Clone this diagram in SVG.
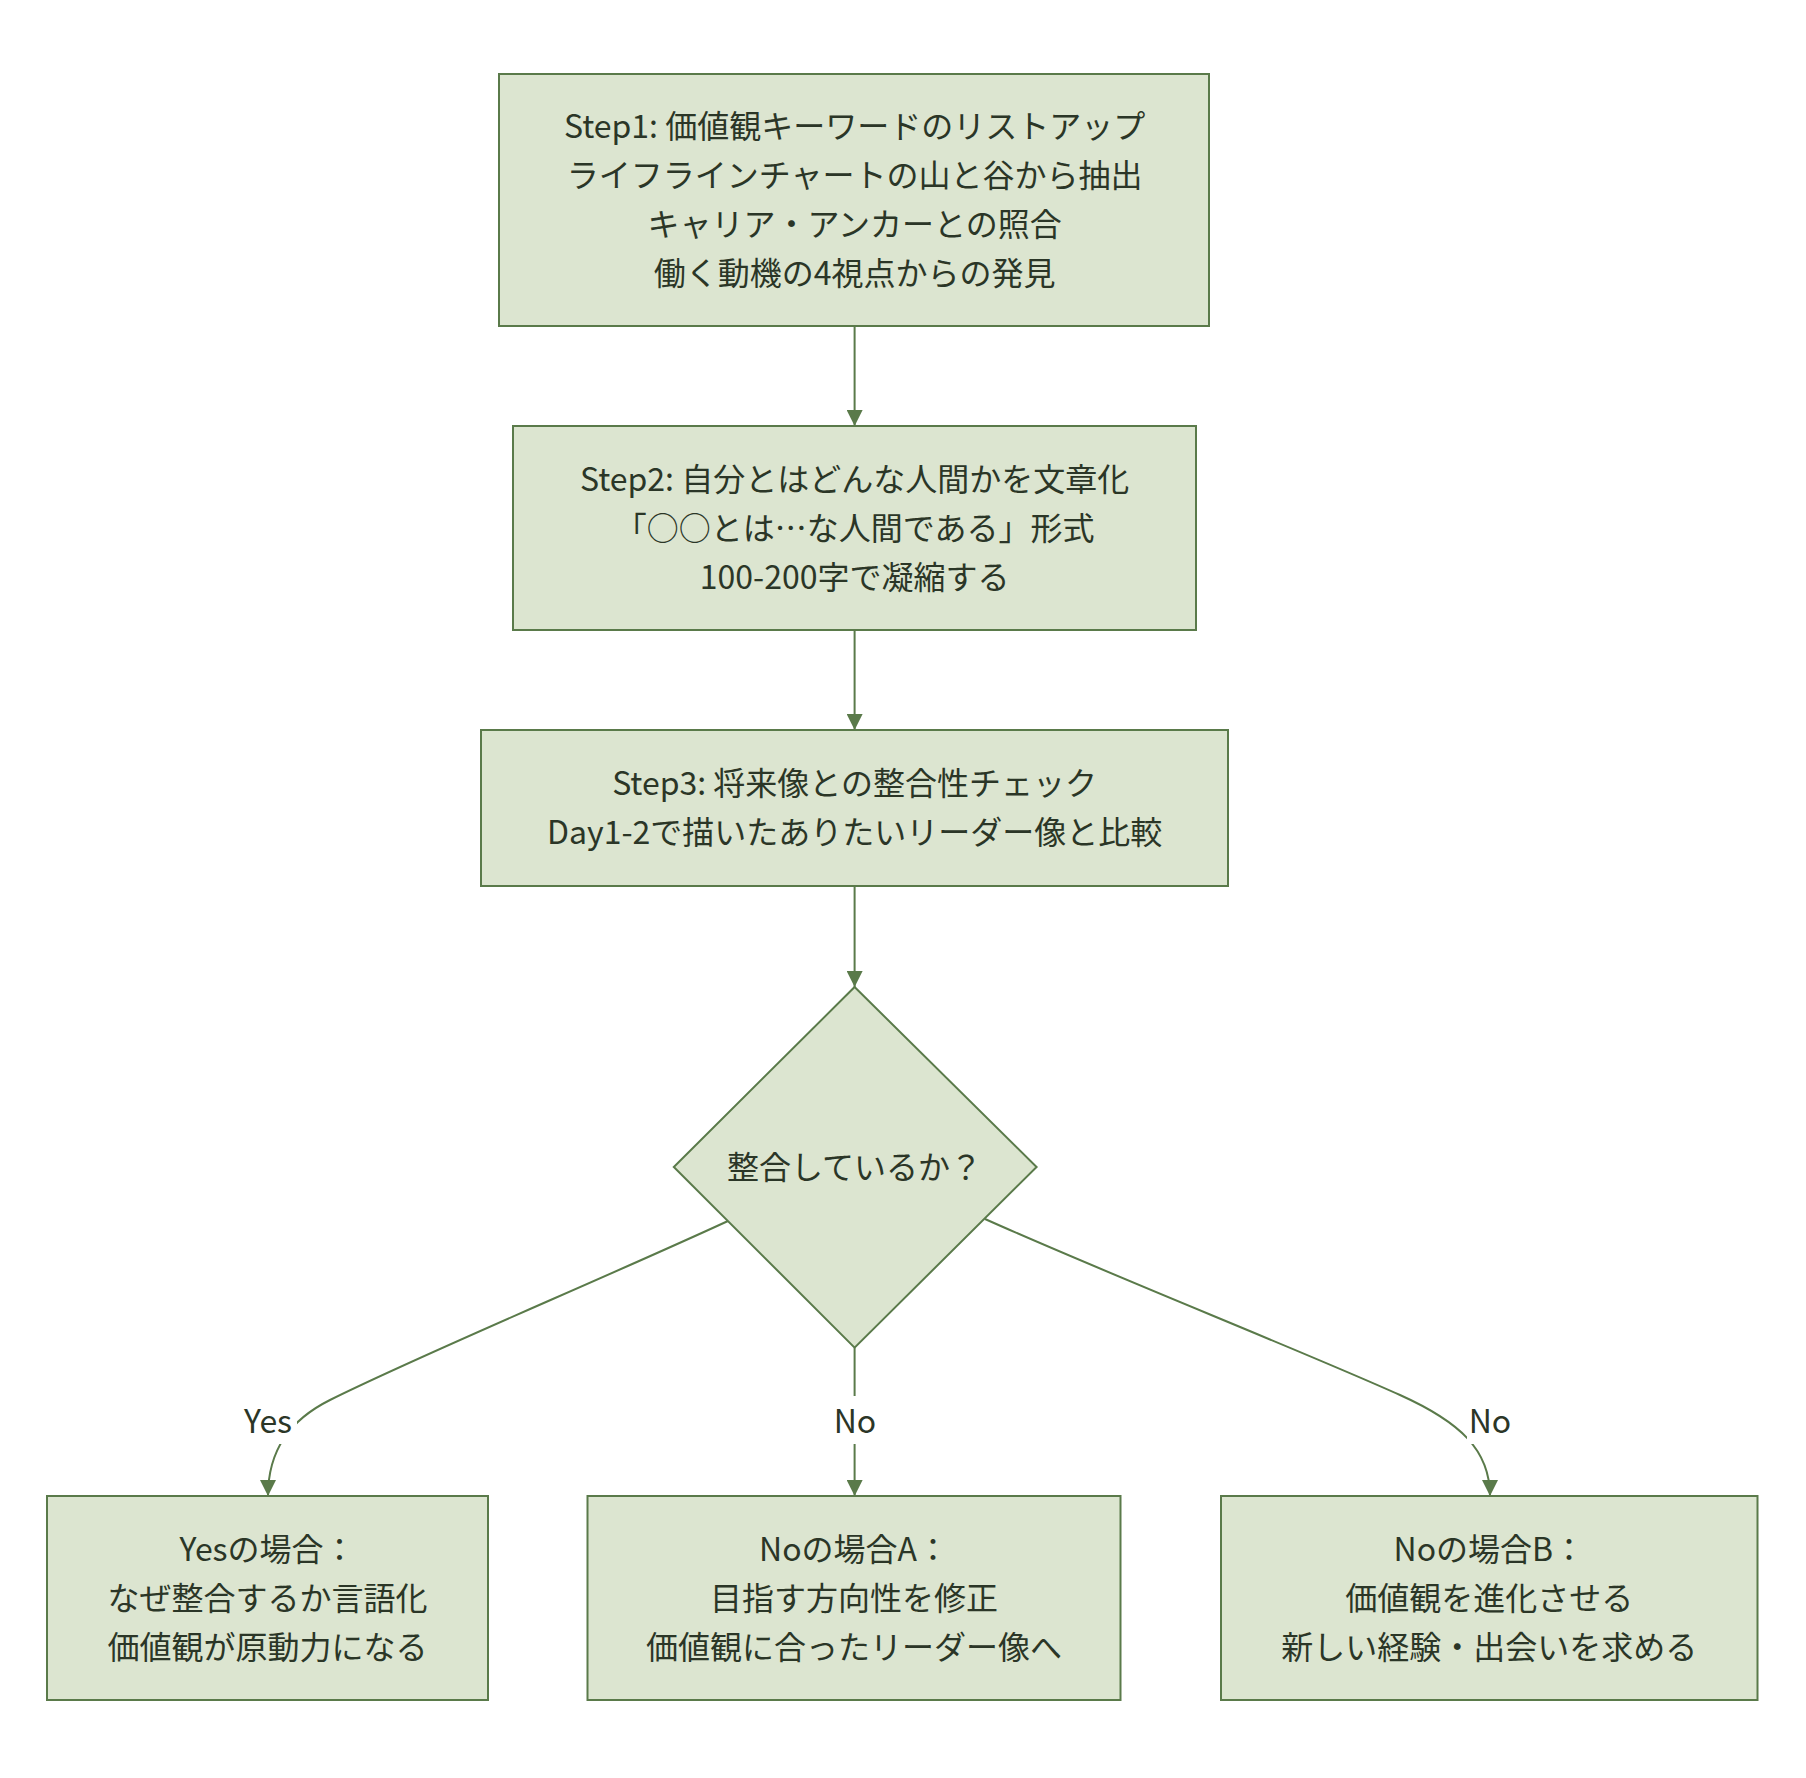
<svg xmlns="http://www.w3.org/2000/svg" width="1806" height="1778" viewBox="0 0 1806 1778">
<style>
.node{fill:#dce5d0;stroke:#5a7a4a;stroke-width:2}
.t{font-family:"Noto Sans CJK JP","Noto Sans",sans-serif;font-size:32px;fill:#2b3627;text-anchor:middle;dominant-baseline:central}
.edge{fill:none;stroke:#5a7a4a;stroke-width:2}
.lblbg{fill:#ffffff}
</style>
<defs>
<marker id="arrow" viewBox="0 0 10 10" refX="10" refY="5" markerUnits="userSpaceOnUse" markerWidth="16" markerHeight="16" orient="auto">
<path d="M0,0 L10,5 L0,10 z" fill="#5a7a4a"/>
</marker>
</defs>
<rect width="1806" height="1778" fill="#ffffff"/>
<g id="connectors">
<path class="edge" d="M854.6,326 L854.6,426" marker-end="url(#arrow)"/>
<path class="edge" d="M854.6,630 L854.6,730" marker-end="url(#arrow)"/>
<path class="edge" d="M854.6,886 L854.6,987" marker-end="url(#arrow)"/>
<path class="edge" d="M728,1221 C600,1280 420,1355 330,1400 C290,1420 268,1450 268,1496" marker-end="url(#arrow)"/>
<path class="edge" d="M854.6,1347.6 L854.6,1496" marker-end="url(#arrow)"/>
<path class="edge" d="M985,1219 C1110,1275 1300,1350 1400,1395 C1460,1422 1490,1450 1490,1496" marker-end="url(#arrow)"/>
<g id="label-yes">
<rect class="lblbg" x="240" y="1396" width="57" height="48"/>
<text class="t" x="268" y="1419">Yes</text>
</g>
<g id="label-no-a">
<rect class="lblbg" x="832" y="1396" width="46" height="48"/>
<text class="t" x="855" y="1419">No</text>
</g>
<g id="label-no-b">
<rect class="lblbg" x="1467" y="1396" width="46" height="48"/>
<text class="t" x="1490" y="1419">No</text>
</g>
</g>
<g id="step1">
<rect class="node" x="499" y="74" width="710" height="252"/>
<text class="t" x="854.6" y="124">Step1: 価値観キーワードのリストアップ</text>
<text class="t" x="854.6" y="173">ライフラインチャートの山と谷から抽出</text>
<text class="t" x="854.6" y="222">キャリア・アンカーとの照合</text>
<text class="t" x="854.6" y="271">働く動機の4視点からの発見</text>
</g>
<g id="step2">
<rect class="node" x="513" y="426" width="683" height="204"/>
<text class="t" x="854.6" y="476.5">Step2: 自分とはどんな人間かを文章化</text>
<text class="t" x="854.6" y="525.5">「○○とは…な人間である」形式</text>
<text class="t" x="854.6" y="574.5">100-200字で凝縮する</text>
</g>
<g id="step3">
<rect class="node" x="481" y="730" width="747" height="156"/>
<text class="t" x="854.6" y="781">Step3: 将来像との整合性チェック</text>
<text class="t" x="854.6" y="830">Day1-2で描いたありたいリーダー像と比較</text>
</g>
<g id="decision">
<polygon class="node" points="854.6,987 1036.6,1167 854.6,1347.6 673.8,1167"/>
<text class="t" x="854.6" y="1164.5">整合しているか？</text>
</g>
<g id="yes-case">
<rect class="node" x="47" y="1496" width="441" height="204"/>
<text class="t" x="267.5" y="1546.5">Yesの場合：</text>
<text class="t" x="267.5" y="1595.5">なぜ整合するか言語化</text>
<text class="t" x="267.5" y="1644.5">価値観が原動力になる</text>
</g>
<g id="no-case-a">
<rect class="node" x="587.5" y="1496" width="533" height="204"/>
<text class="t" x="854" y="1546.5">Noの場合A：</text>
<text class="t" x="854" y="1595.5">目指す方向性を修正</text>
<text class="t" x="854" y="1644.5">価値観に合ったリーダー像へ</text>
</g>
<g id="no-case-b">
<rect class="node" x="1221" y="1496" width="536.5" height="204"/>
<text class="t" x="1489.3" y="1546.5">Noの場合B：</text>
<text class="t" x="1489.3" y="1595.5">価値観を進化させる</text>
<text class="t" x="1489.3" y="1644.5">新しい経験・出会いを求める</text>
</g>
</svg>
